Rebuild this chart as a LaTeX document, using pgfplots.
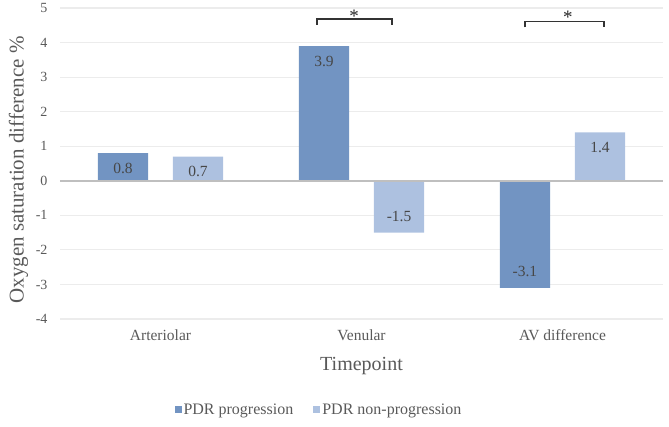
\documentclass[border=0pt]{standalone}
\usepackage{pgfplots}
\pgfplotsset{compat=1.18}
\usepackage{fontspec}
\setmainfont{Liberation Serif}
\definecolor{progc}{RGB}{114,148,194}
\definecolor{nonprogc}{RGB}{173,193,224}
\definecolor{txtc}{RGB}{89,89,89}
\definecolor{gridc}{RGB}{236,236,236}
\definecolor{zeroc}{RGB}{191,191,191}
\begin{document}
\begin{tikzpicture}
\path[use as bounding box] (-60pt,-108pt) rectangle (609pt,319pt);
\begin{axis}[
  at={(0pt,0pt)}, anchor=south west,
  scale only axis,
  width=603pt, height=311pt,
  xmin=-0.5, xmax=2.5,
  ymin=-4, ymax=5,
  ytick={-4,-3,...,5},
  xtick={0,1,2},
  xticklabels={Arteriolar,Venular,AV difference},
  axis line style={draw=none},
  major tick length=0pt,
  ymajorgrids,
  grid style={gridc, line width=1.2pt},
  /pgf/number format/assume math mode=true,
  yticklabel style={font=\fontsize{14}{16}\selectfont, text=txtc, xshift=-9pt},
  xticklabel style={font=\fontsize{15.5}{18}\selectfont, text=txtc, yshift=-7pt},
  ylabel={Oxygen saturation difference \%},
  ylabel style={font=\fontsize{21}{24}\selectfont, text=txtc, at={(axis description cs:-0.069,0.479)}, anchor=center},
  xlabel={Timepoint},
  xlabel style={font=\fontsize{20}{23}\selectfont, text=txtc, at={(axis description cs:0.5,-0.151)}, anchor=center},
  legend columns=2,
  legend style={draw=none, fill=none, at={(axis description cs:0.4295,-0.2926)}, anchor=center,
    font=\fontsize{16}{19}\selectfont, text=txtc,
    /tikz/every even column/.append style={column sep=18pt}},
  ybar=0pt,
  every axis plot post/.append style={legend image code/.code={\fill[##1,draw=none] (0pt,-3.5pt) rectangle (7pt,3.5pt);}},
  bar width=0.25,
  visualization depends on={rawy \as \rawy},
  nodes near coords,
  nodes near coords style={font=\fontsize{15.5}{18}\selectfont, text=black!72, anchor=center,
     yshift={ifthenelse(\rawy<0,16,-15)}},
  point meta=explicit symbolic,
]
\addplot[fill=progc, draw=none, bar shift=-0.1867] coordinates {(0,0.8)[0.8] (1,3.9)[3.9] (2,-3.1)[-3.1]};
\addlegendentry{PDR progression}
\addplot[fill=nonprogc, draw=none, bar shift=0.1867] coordinates {(0,0.7)[0.7] (1,-1.5)[-1.5] (2,1.4)[1.4]};
\addlegendentry{PDR non-progression}
\draw[zeroc, line width=2pt] (axis cs:-0.5,0) -- (axis cs:2.5,0);
\addplot[sharp plot, no marks, draw=black!80, line width=1.8pt, nodes near coords={}, forget plot] coordinates {(0.78,4.52) (0.78,4.68) (1.15,4.68) (1.15,4.52)};
\addplot[sharp plot, no marks, draw=black!80, line width=1.8pt, nodes near coords={}, forget plot] coordinates {(1.813,4.44) (1.813,4.61) (2.206,4.61) (2.206,4.44)};
\node[font=\fontsize{19}{20}\selectfont, text=black!85] at (axis cs:0.963,4.76) {*};
\node[font=\fontsize{19}{20}\selectfont, text=black!85] at (axis cs:2.027,4.72) {*};
\end{axis}
\end{tikzpicture}
\end{document}
